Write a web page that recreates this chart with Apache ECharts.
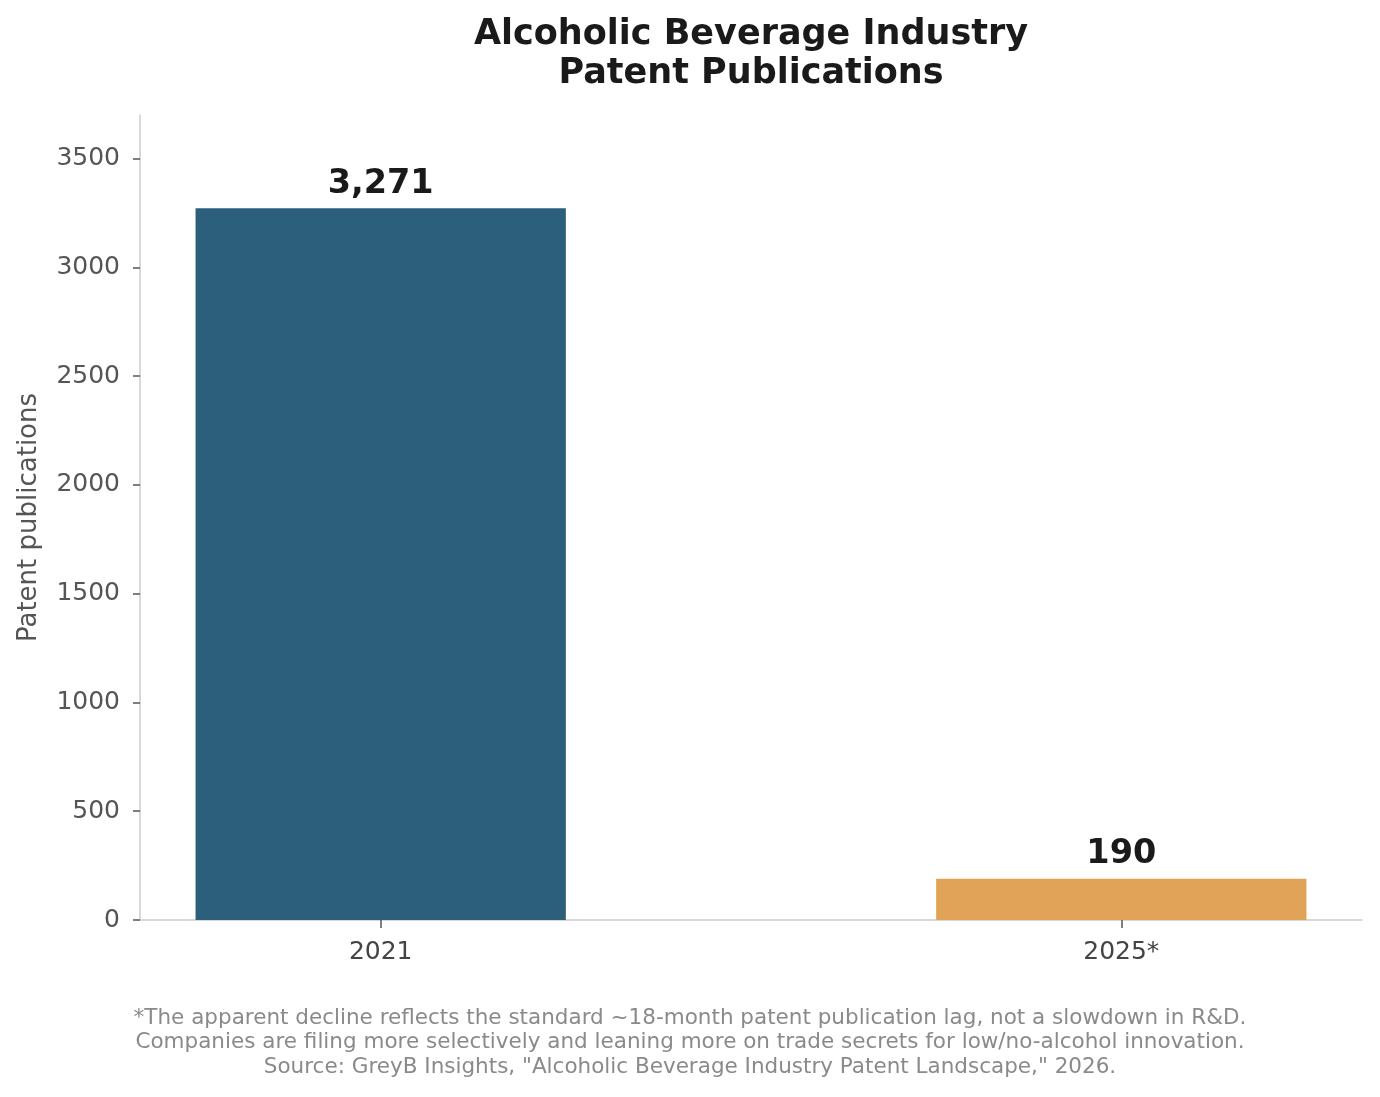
<!DOCTYPE html>
<html>
<head>
<meta charset="utf-8">
<script src="https://cdn.jsdelivr.net/npm/echarts@6/dist/echarts.min.js"></script>
<style>
html,body{margin:0;padding:0;background:#fff;}
#chart{width:1380px;height:1097px;}
</style>
</head>
<body>
<div id="chart"></div>
<script>
const categories = ['2021', '2025*'];
const values = [3271, 190];
const barColors = ['#2c5f7b', '#e0a358'];
const yTicks = [0, 500, 1000, 1500, 2000, 2500, 3000, 3500];
const titleLines = ['Alcoholic Beverage Industry', 'Patent Publications'];
const footLines = [
  '*The apparent decline reflects the standard ~18-month patent publication lag, not a slowdown in R&D.',
  'Companies are filing more selectively and leaning more on trade secrets for low/no-alcohol innovation.',
  'Source: GreyB Insights, "Alcoholic Beverage Industry Patent Landscape," 2026.'
];

const FONT = 'DejaVu Sans';
const chart = echarts.init(document.getElementById('chart'));

const graphics = [];
titleLines.forEach((t, i) => {
  graphics.push({
    type: 'text', x: 751, y: 35 + i * 39,
    style: { text: t, fontFamily: FONT, fontSize: 35, fontWeight: 'bold', fill: '#1a1a1a',
             textAlign: 'center', textVerticalAlign: 'middle' }
  });
});
footLines.forEach((t, i) => {
  graphics.push({
    type: 'text', x: 690, y: 1018 + i * 24.5,
    style: { text: t, fontFamily: FONT, fontSize: 21.5, fill: '#8a8a8a',
             textAlign: 'center', textVerticalAlign: 'middle' }
  });
});

chart.setOption({
  backgroundColor: '#ffffff',
  animation: false,
  textStyle: { fontFamily: FONT },
  graphic: graphics,
  grid: { left: 140, right: 18, top: 115, bottom: 177, containLabel: false },
  xAxis: {
    type: 'value',
    min: -0.325, max: 1.325,
    splitLine: { show: false },
    axisLine: { show: true, onZero: false, lineStyle: { color: '#cccccc', width: 1.5 } },
    axisTick: { show: true, customValues: [0, 1], length: 8, lineStyle: { color: '#555555', width: 1.5 } },
    axisLabel: {
      customValues: [0, 1], margin: 20,
      fontFamily: FONT, fontSize: 25, color: '#444444',
      formatter: v => categories[Math.round(v)] || ''
    }
  },
  yAxis: {
    type: 'value',
    min: 0, max: 3700,
    name: 'Patent publications',
    nameLocation: 'middle', nameGap: 98, nameRotate: 90,
    nameTextStyle: { fontFamily: FONT, fontSize: 26, color: '#555555' },
    splitLine: { show: false },
    axisLine: { show: true, onZero: false, lineStyle: { color: '#cccccc', width: 1.5 } },
    axisTick: { show: true, customValues: yTicks, length: 7, lineStyle: { color: '#555555', width: 1.5 } },
    axisLabel: { customValues: yTicks, margin: 20, fontFamily: FONT, fontSize: 25, color: '#555555',
                 formatter: v => String(v) }
  },
  series: [{
    type: 'bar',
    barWidth: '50%',
    data: values.map((v, i) => ({ value: [i, v], itemStyle: { color: barColors[i] } })),
    label: {
      show: true, position: 'top', distance: 7,
      fontFamily: FONT, fontSize: 33.5, fontWeight: 'bold', color: '#1a1a1a',
      formatter: p => p.value[1].toLocaleString('en-US')
    }
  }]
});
</script>
</body>
</html>
